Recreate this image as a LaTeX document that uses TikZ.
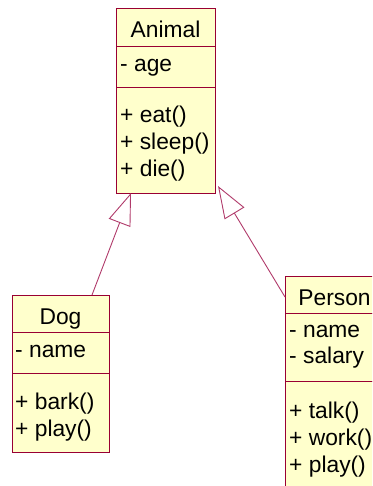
\documentclass[tikz,border=0pt]{standalone}
\usepackage{fontspec}
\setmainfont{Liberation Sans}
\usetikzlibrary{positioning,arrows.meta,calc}
\definecolor{umlred}{HTML}{990033}
\definecolor{umlline}{HTML}{B03A6A}
\definecolor{umlfill}{HTML}{FFFFCC}

\begin{document}
\begin{tikzpicture}[
  x=1pt, y=-1pt,
  box/.style={rectangle, draw=umlred, fill=umlfill, line width=1pt, outer sep=0pt, inner sep=0pt},
  ttl/.style={font=\fontsize{22.8}{27}\selectfont, inner sep=0pt, anchor=base},
  item/.style={font=\fontsize{22.8}{27}\selectfont, inner sep=0pt, anchor=base west},
  gen/.style={draw=umlline, line width=0.9pt, -{Triangle[open, length=32pt, width=23pt]}},
]
\clip (0,0) rectangle (372,486);

% ====== Animal ======
\node[box, minimum width=99, minimum height=38, anchor=north west] (animal) at (116,9) {};
\node[box, minimum width=99, minimum height=41, below=0pt of animal] (animalattr) {};
\node[box, minimum width=99, minimum height=105, below=0pt of animalattr] (animalops) {};
\node[ttl] (animalname) at ($(animal.north)+(0,28.5)$) {Animal};
\node[item] (animala1) at ($(animalattr.north west)+(4,24.5)$) {- age};
\foreach \txt [count=\i, evaluate={\yy=35+27*(\i-1);}] in {+ eat(), + sleep(), + die()} {
  \node[item] (animalo\i) at ($(animalops.north west)+(4,\yy)$) {\txt};
}

% ====== Dog ======
\node[box, minimum width=97, minimum height=37, anchor=north west] (dog) at (12,295) {};
\node[box, minimum width=97, minimum height=41, below=0pt of dog] (dogattr) {};
\node[box, minimum width=97, minimum height=79, below=0pt of dogattr] (dogops) {};
\node[ttl] (dogname) at ($(dog.north)+(0,29)$) {Dog};
\node[item] (doga1) at ($(dogattr.north west)+(3,25)$) {- name};
\foreach \txt [count=\i, evaluate={\yy=36+27*(\i-1);}] in {+ bark(), + play()} {
  \node[item] (dogo\i) at ($(dogops.north west)+(3,\yy)$) {\txt};
}

% ====== Person ======
\node[box, minimum width=99, minimum height=37, anchor=north west] (person) at (285,276) {};
\node[box, minimum width=99, minimum height=68, below=0pt of person] (personattr) {};
\node[box, minimum width=99, minimum height=130, below=0pt of personattr] (personops) {};
\node[ttl] (personname) at ($(person.north)+(0,29.5)$) {Person};
\foreach \txt [count=\i, evaluate={\yy=24+26*(\i-1);}] in {- name, - salary} {
  \node[item] (persona\i) at ($(personattr.north west)+(4,\yy)$) {\txt};
}
\foreach \txt [count=\i, evaluate={\yy=37+27*(\i-1);}] in {+ talk(), + work(), + play()} {
  \node[item] (persono\i) at ($(personops.north west)+(4,\yy)$) {\txt};
}

% ====== Generalisations ======
\draw[gen] ($(dog.north)+(31.5,0)$) -- ($(animalops.south west)+(15,0)$);
\draw[gen] ($(person.north west)+(0,21)$) -- ($(animalops.south east)+(3,-7)$);

\end{tikzpicture}
\end{document}
